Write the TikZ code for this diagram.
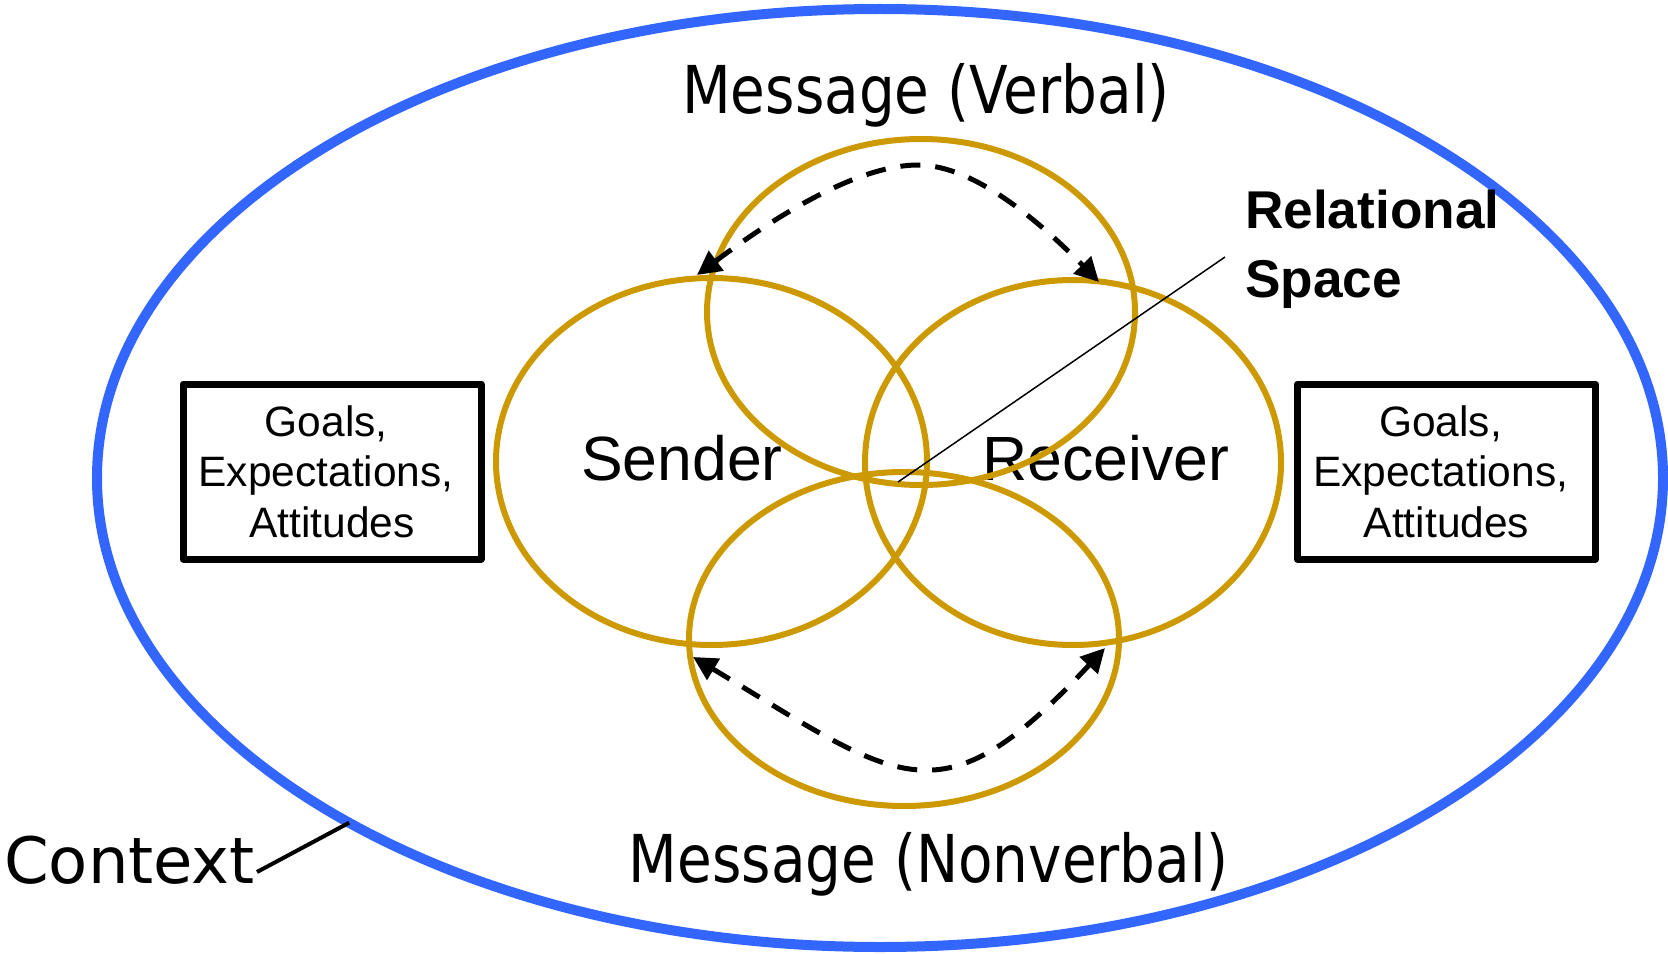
\documentclass[tikz,border=0pt]{standalone}
\usepackage{fontspec}
\setmainfont{Liberation Sans}
\newfontfamily\msgfont[FakeStretch=0.855]{DejaVu Sans}
\newfontfamily\ctxfont{DejaVu Sans}
\usetikzlibrary{shapes.geometric,arrows.meta}
\definecolor{ringblue}{HTML}{3366FF}
\definecolor{ringgold}{HTML}{CC9900}
\newcommand{\trail}{\mbox{\hspace{0.278em}}}

\begin{document}
\begin{tikzpicture}[x=1pt,y=-1pt,
  ctxring/.style={ellipse, draw=ringblue, line width=10pt, inner sep=0pt, outer sep=0pt},
  ring/.style={ellipse, draw=ringgold, line width=6pt, inner sep=0pt},
  gbox/.style={draw=black, line width=7pt, line join=round, inner sep=0pt,
    minimum width=298pt, minimum height=175pt, align=center,
    font=\fontsize{42.5}{50.5}\selectfont},
  msg/.style={inner sep=0pt, anchor=base, font=\msgfont\fontsize{66}{79}\selectfont},
  party/.style={inner sep=0pt, anchor=base, font=\fontsize{62.5}{74}\selectfont},
  rel/.style={inner sep=0pt, anchor=base west, font=\bfseries\fontsize{53.2}{62}\selectfont},
  flow/.style={line width=5pt, dash pattern=on 20pt off 15pt,
    {Triangle[length=24pt,width=24pt]}-{Triangle[length=24pt,width=24pt]}},
  pointer/.style={draw=black, line width=#1},
]
\useasboundingbox (0,0) rectangle (1668,955);

% outer context ring
\node[ctxring, minimum width=1566pt, minimum height=938pt] (context) at (880,478) {};

% labels under the rings
\node[party] (sendertext) at (682,480) {Sender};
\node[party] (receivertext) at (1106,480) {Receiver};

% the four overlapping rings
\node[ring, minimum width=431pt, minimum height=367pt] (sender) at (711.5,461.5) {};
\node[ring, minimum width=416pt, minimum height=365pt] (receiver) at (1073,462.5) {};
\node[ring, minimum width=428pt, minimum height=346pt] (verbal) at (921,312) {};
\node[ring, minimum width=430pt, minimum height=334pt] (nonverbal) at (904,639) {};

% goals boxes
\node[gbox] (lgoals) at (332,471.5) {Goals,\trail\\Expectations,\trail\\Attitudes};
\node[gbox] (rgoals) at (1446.5,471.5) {Goals,\trail\\Expectations,\trail\\Attitudes};

% message labels
\node[msg] (verballabel) at (926,114) {Message (Verbal)};
\node[msg] (nonverballabel) at (928.5,882) {Message (Nonverbal)};

% relational space label and its pointer
\node[rel] (relA) at (1245,228) {Relational};
\node[rel] (relB) at (1245,297) {Space};
\coordinate (relstart) at (1225,257);
\coordinate (relend) at (898,482);
\draw[pointer=1.5pt] (relstart) -- (relend);

% context label and its pointer
\node[inner sep=0pt, anchor=base west, font=\ctxfont\fontsize{64}{76}\selectfont] (ctxlabel) at (4,883) {Context};
\coordinate (ctxstart) at (257,872);
\draw[pointer=4pt] (ctxstart) -- (context.213.3);

% message flows between sender and receiver
\coordinate (vS) at (697,275);
\coordinate (vR) at (1099,282);
\coordinate (nS) at (693,657);
\coordinate (nR) at (1105,648);
\draw[flow] (vS) .. controls (752,234) and (848,165) .. (918,165)
                 .. controls (975,165) and (1042,224) .. (vR);
\draw[flow] (nS) .. controls (901,782) and (939,826) .. (nR);
\end{tikzpicture}
\end{document}
